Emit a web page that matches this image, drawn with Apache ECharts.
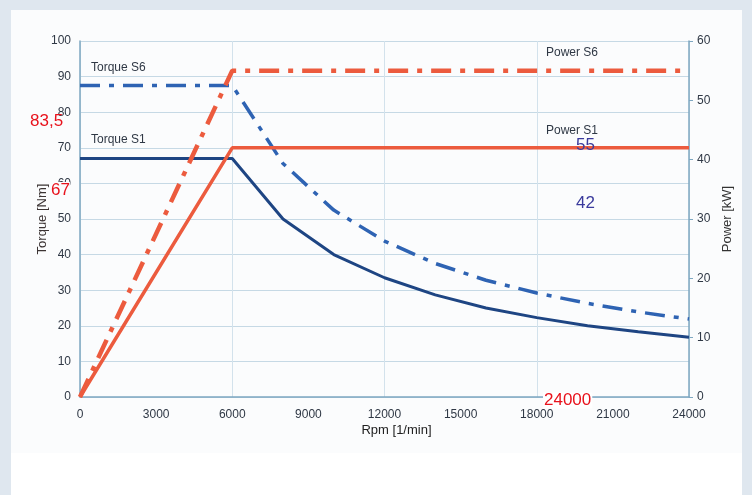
<!DOCTYPE html>
<html>
<head>
<meta charset="utf-8">
<script src="https://cdn.jsdelivr.net/npm/echarts@6/dist/echarts.min.js"></script>
<style>
html,body{margin:0;padding:0;background:#dfe7ef;}
#c{width:752px;height:495px;}
</style>
</head>
<body>
<div id="c"></div>
<script>
// ---- data ----
const rpm = [0, 6000, 8000, 10000, 12000, 14000, 16000, 18000, 20000, 22000, 24000];
const torqueS1 = [67, 67, 50, 40, 33.5, 28.7, 25, 22.3, 20, 18.3, 16.8];
const torqueS6 = [87.5, 87.5, 65.6, 52.5, 43.8, 37.5, 32.8, 29.2, 26.3, 23.9, 21.9];
const powerRpm = [0, 6000, 24000];
const powerS1 = [0, 42, 42];
const powerS6 = [0, 55, 55];
const seriesNames = ['Torque S1', 'Torque S6', 'Power S1', 'Power S6'];
const overlayLeft = ['83,5', '67'];
const overlayRight = ['55', '42'];
const overlayBottom = '24000';

const chart = echarts.init(document.getElementById('c'), null, {renderer: 'canvas'});
const FONT = 'Liberation Sans, Arial, sans-serif';
const axisCol = '#7ea7c1';
const txtCol = '#2f3845';

function pairs(xs, ys) { return xs.map((x, i) => [x, ys[i]]); }

const option = {
  backgroundColor: 'transparent',
  animation: false,
  grid: {left: 80, right: 63, top: 41, bottom: 98, containLabel: false},
  graphic: [
    {type: 'rect', z: -10, shape: {x: 11, y: 10, width: 731, height: 485}, style: {fill: '#ffffff'}},
    {type: 'rect', z: -9, shape: {x: 11, y: 10, width: 731, height: 443}, style: {fill: '#fbfcfd'}},
    {type: 'text', left: 91, top: 62, z: 20, style: {text: 'Torque S6', font: '12px ' + FONT, fill: txtCol}},
    {type: 'text', left: 91, top: 134, z: 20, style: {text: 'Torque S1', font: '12px ' + FONT, fill: txtCol}},
    {type: 'text', left: 546, top: 47, z: 20, style: {text: 'Power S6', font: '12px ' + FONT, fill: txtCol}},
    {type: 'text', left: 546, top: 125, z: 20, style: {text: 'Power S1', font: '12px ' + FONT, fill: txtCol}},
    {type: 'text', left: 30, top: 113, z: 30, style: {text: overlayLeft[0], font: '17px ' + FONT, fill: '#e8121c'}},
    {type: 'text', left: 51, top: 182, z: 30, style: {text: overlayLeft[1], font: '17px ' + FONT, fill: '#e8121c', backgroundColor: '#fbfcfd'}},
    {type: 'text', left: 576, top: 137, z: 30, style: {text: overlayRight[0], font: '17px ' + FONT, fill: '#3a3a9c'}},
    {type: 'text', left: 576, top: 195, z: 30, style: {text: overlayRight[1], font: '17px ' + FONT, fill: '#3a3a9c'}},
    {type: 'text', left: 543, top: 392, z: 30, style: {text: overlayBottom, font: '17px ' + FONT, lineHeight: 16, fill: '#e8121c', backgroundColor: '#ffffff', padding: [0, 1, 0, 1]}}
  ],
  xAxis: [
    {
      type: 'value', min: 0, max: 24000, interval: 3000, position: 'bottom',
      name: 'Rpm [1/min]', nameLocation: 'middle', nameGap: 27, nameMoveOverlap: false,
      nameTextStyle: {fontFamily: FONT, fontSize: 13, color: '#222', padding: [0, 0, 0, 24]},
      axisLine: {show: true, lineStyle: {color: axisCol, width: 1.5}},
      axisTick: {show: false},
      axisLabel: {fontFamily: FONT, fontSize: 12, color: txtCol, margin: 12, formatter: v => String(v)},
      splitLine: {show: false}
    },
    {
      type: 'value', min: 0, max: 24000, interval: 6000, position: 'bottom',
      axisLine: {show: false}, axisTick: {show: false}, axisLabel: {show: false},
      splitLine: {show: true, lineStyle: {color: '#d3e2ec', width: 1}}
    }
  ],
  yAxis: [
    {
      type: 'value', min: 0, max: 100, interval: 10, position: 'left',
      name: 'Torque [Nm]', nameLocation: 'middle', nameGap: 31, nameMoveOverlap: false,
      nameTextStyle: {fontFamily: FONT, fontSize: 13, color: '#3b3333'},
      axisLine: {show: true, lineStyle: {color: axisCol, width: 1.5}},
      axisTick: {show: false},
      axisLabel: {fontFamily: FONT, fontSize: 12, color: txtCol, margin: 9},
      splitLine: {show: true, lineStyle: {color: '#c6d9e5', width: 1}}
    },
    {
      type: 'value', min: 0, max: 60, interval: 10, position: 'right',
      name: 'Power [kW]', nameLocation: 'middle', nameGap: 32, nameMoveOverlap: false,
      nameTextStyle: {fontFamily: FONT, fontSize: 13, color: '#333'},
      axisLine: {show: true, onZero: false, lineStyle: {color: axisCol, width: 1.5}},
      axisTick: {show: true, inside: false, length: 4, lineStyle: {color: axisCol}},
      axisLabel: {fontFamily: FONT, fontSize: 12, color: txtCol, margin: 8},
      splitLine: {show: false}
    }
  ],
  series: [
    {
      name: seriesNames[0], type: 'line', xAxisIndex: 0, yAxisIndex: 0,
      data: pairs(rpm, torqueS1), showSymbol: false, symbol: 'none',
      lineStyle: {color: '#1e4583', width: 3}, z: 3
    },
    {
      name: seriesNames[1], type: 'line', xAxisIndex: 0, yAxisIndex: 0,
      data: pairs(rpm, torqueS6), showSymbol: false, symbol: 'none',
      lineStyle: {color: '#2e63b3', width: 3.5, type: [20, 9, 5, 9]}, z: 3
    },
    {
      name: seriesNames[2], type: 'line', xAxisIndex: 0, yAxisIndex: 1,
      data: pairs(powerRpm, powerS1), showSymbol: false, symbol: 'none',
      lineStyle: {color: '#ec5b3e', width: 3.5}, z: 4
    },
    {
      name: seriesNames[3], type: 'line', xAxisIndex: 0, yAxisIndex: 1,
      data: pairs(powerRpm, powerS6), showSymbol: false, symbol: 'none',
      lineStyle: {color: '#ec5b3e', width: 4.5, type: [20, 9, 5, 9]}, z: 4
    }
  ]
};
chart.setOption(option);
</script>
</body>
</html>
